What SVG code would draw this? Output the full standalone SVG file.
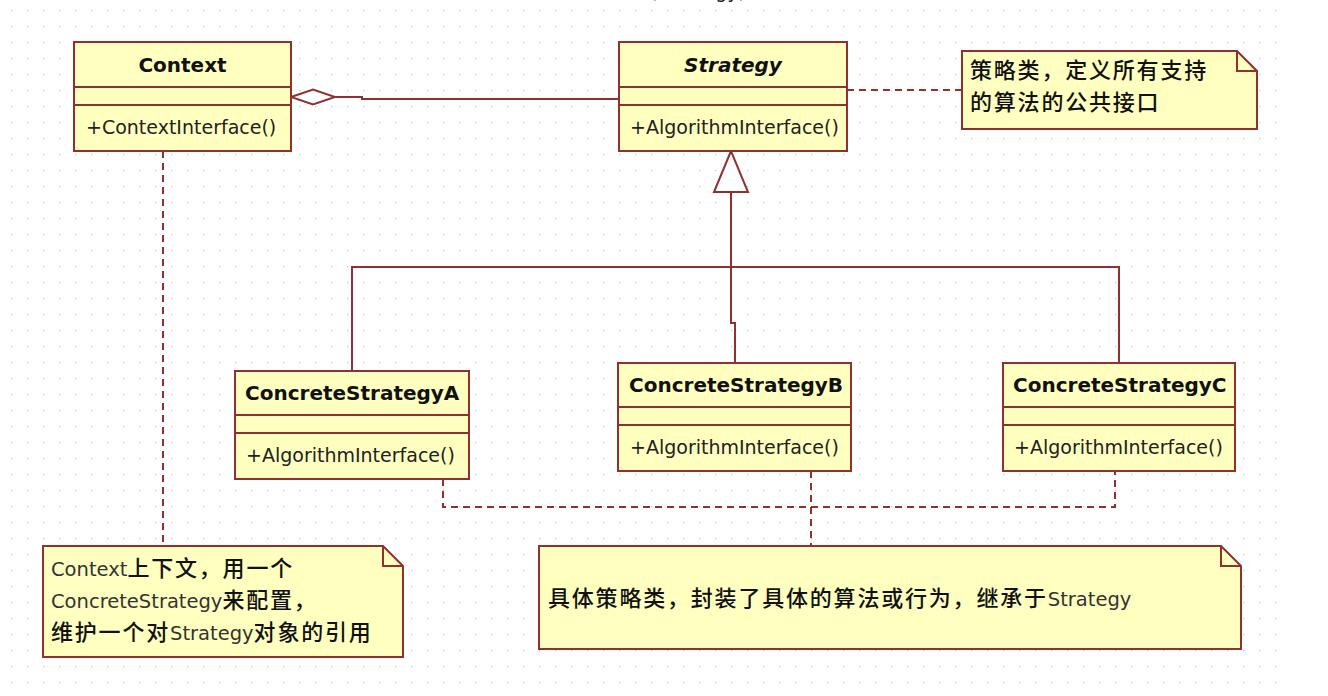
<svg xmlns="http://www.w3.org/2000/svg" width="1328" height="696" viewBox="0 0 1328 696">
<defs>
<pattern id="grid" x="11" y="10" width="16" height="16" patternUnits="userSpaceOnUse">
<rect x="0" y="0" width="1.3" height="1.3" fill="#c4c4c4"/>
</pattern>
<style>
.box{fill:#ffffc0;stroke:#922f2f;stroke-width:2}
.sep{stroke:#922f2f;stroke-width:2;fill:none}
.ln{stroke:#922f2f;stroke-width:2;fill:none}
.dash{stroke:#922f2f;stroke-width:2;stroke-dasharray:7 5;fill:none}
.hollow{fill:#ffffff;stroke:#922f2f;stroke-width:2}
.name{font-family:"DejaVu Sans",sans-serif;font-size:20px;font-weight:bold;fill:#111}
.op{font-family:"DejaVu Sans",sans-serif;font-size:19px;fill:#222}
.note{fill:#ffffc0;stroke:#922f2f;stroke-width:2}
.ntxt{font-family:"DejaVu Sans","Noto Sans CJK SC",sans-serif;font-size:19.5px;fill:#333}
.cjk{font-family:"Noto Sans CJK SC",sans-serif;font-size:22px;font-weight:500;letter-spacing:1.8px;fill:#111}
</style>
</defs>
<rect x="0" y="0" width="1328" height="696" fill="#ffffff"/>
<rect x="0" y="0" width="1284" height="696" fill="url(#grid)"/>
<text x="746" y="-2" text-anchor="end" class="op">(Strategy)</text>

<g id="connectors">
<path class="ln" d="M335,97 H362 V99 H619"/>
<polygon class="hollow" points="291,97 313,89.5 335,97 313,104.5"/>
<path class="ln" d="M352,371 V267 H1119 V363"/>
<path class="ln" d="M731,192 V323 H735 V363"/>
<polygon class="hollow" points="731,151 714,192 748,192"/>
<path class="dash" d="M847,90 H962"/>
<path class="dash" d="M163,151 V546"/>
<path class="dash" d="M443,479 V507 H1115 V471"/>
<path class="dash" d="M811,471 V546"/>
</g>

<g id="Context">
<rect class="box" x="74" y="42" width="217" height="109"/>
<path class="sep" d="M74,87 H291 M74,105 H291"/>
<text class="name" x="182.5" y="72" text-anchor="middle">Context</text>
<text class="op" x="86" y="134">+ContextInterface()</text>
</g>

<g id="Strategy">
<rect class="box" x="619" y="42" width="228" height="109"/>
<path class="sep" d="M619,87 H847 M619,105 H847"/>
<text class="name" x="733" y="72" text-anchor="middle" font-style="italic">Strategy</text>
<text class="op" x="630" y="134">+AlgorithmInterface()</text>
</g>

<g id="ConcreteStrategyA">
<rect class="box" x="235" y="371" width="234" height="108"/>
<path class="sep" d="M235,415 H469 M235,433 H469"/>
<text class="name" x="245" y="400">ConcreteStrategyA</text>
<text class="op" x="246" y="462">+AlgorithmInterface()</text>
</g>

<g id="ConcreteStrategyB">
<rect class="box" x="618" y="363" width="233" height="108"/>
<path class="sep" d="M618,407 H851 M618,425 H851"/>
<text class="name" x="629" y="392">ConcreteStrategyB</text>
<text class="op" x="630" y="454">+AlgorithmInterface()</text>
</g>

<g id="ConcreteStrategyC">
<rect class="box" x="1003" y="363" width="232" height="108"/>
<path class="sep" d="M1003,407 H1235 M1003,425 H1235"/>
<text class="name" x="1013" y="392">ConcreteStrategyC</text>
<text class="op" x="1014" y="454">+AlgorithmInterface()</text>
</g>

<g id="note-strategy">
<path class="note" d="M962,51 H1237 L1257,71 V129 H962 Z"/>
<path class="sep" d="M1237,51 V71 H1257"/>
<text class="ntxt" x="970" y="78"><tspan class="cjk">策略类，定义所有支持</tspan></text>
<text class="ntxt" x="970" y="110"><tspan class="cjk">的算法的公共接口</tspan></text>
</g>

<g id="note-context">
<path class="note" d="M43,546 H383 L403,566 V657 H43 Z"/>
<path class="sep" d="M383,546 V566 H403"/>
<text class="ntxt" x="51" y="576">Context<tspan class="cjk">上下文，用一个</tspan></text>
<text class="ntxt" x="51" y="608">ConcreteStrategy<tspan class="cjk">来配置，</tspan></text>
<text class="ntxt" x="51" y="640"><tspan class="cjk">维护一个对</tspan>Strategy<tspan class="cjk">对象的引用</tspan></text>
</g>

<g id="note-concrete">
<path class="note" d="M539,546 H1221 L1241,566 V649 H539 Z"/>
<path class="sep" d="M1221,546 V566 H1241"/>
<text class="ntxt" x="548" y="606"><tspan class="cjk">具体策略类，封装了具体的算法或行为，继承于</tspan>Strategy</text>
</g>
</svg>
